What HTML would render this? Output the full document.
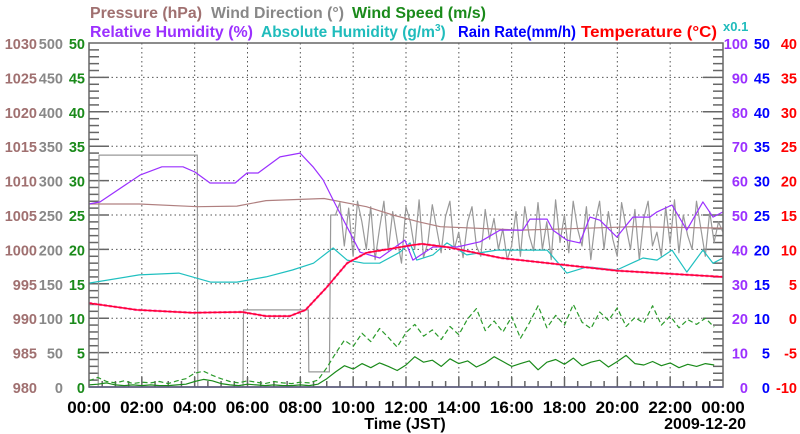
<!DOCTYPE html>
<html><head><meta charset="utf-8"><style>
body{margin:0;background:#fff;width:800px;height:434px;overflow:hidden}
svg{display:block;font-family:"Liberation Sans",sans-serif;font-weight:bold}
</style></head><body>
<svg id="chart" width="800" height="434">
<g font-size="15.5">
<text x="90" y="18" fill="#a07070" textLength="112" lengthAdjust="spacingAndGlyphs">Pressure (hPa)</text>
<text x="211" y="18" fill="#888" textLength="133" lengthAdjust="spacingAndGlyphs">Wind Direction (°)</text>
<text x="352" y="18" fill="#1a8a1a" textLength="134" lengthAdjust="spacingAndGlyphs">Wind Speed (m/s)</text>
<text x="90" y="37" fill="#9b30ff" textLength="163" lengthAdjust="spacingAndGlyphs">Relative Humidity (%)</text>
<text x="261" y="37" fill="#20bcbc">Absolute Humidity (g/m<tspan font-size="10" dy="-6">3</tspan><tspan dy="6">)</tspan></text>
<text x="458" y="37" fill="#0000ff" textLength="118" lengthAdjust="spacingAndGlyphs">Rain Rate(mm/h)</text>
<text x="581" y="37" fill="#ff0000" textLength="136" lengthAdjust="spacingAndGlyphs">Temperature (°C)</text>
<text x="723" y="31" fill="#20bcbc" font-size="13">x0.1</text>
<text x="405" y="429" text-anchor="middle" fill="#000" font-size="16">Time (JST)</text>
<text x="746" y="429" text-anchor="end" fill="#000" font-size="16">2009-12-20</text>
</g>
<g id="grid"></g><g id="ticks"></g><g id="labels" font-size="14.5"></g><g id="series"></g>
<rect x="89" y="43" width="634" height="344" fill="none" stroke="#666" stroke-width="1.5"/>
</svg>
<script>
const xTickLabels=["00:00","02:00","04:00","06:00","08:00","10:00","12:00","14:00","16:00","18:00","20:00","22:00","00:00"];
const pressTicks=[980,985,990,995,1000,1005,1010,1015,1020,1025,1030];
const dirTicks=[0,50,100,150,200,250,300,350,400,450,500];
const spdTicks=[0,5,10,15,20,25,30,35,40,45,50];
const rhTicks=[0,10,20,30,40,50,60,70,80,90,100];
const rainTicks=[0,5,10,15,20,25,30,35,40,45,50];
const tempTicks=[-10,-5,0,5,10,15,20,25,30,35,40];

const rhT=[0,0.42,1.93,2.76,3.56,4.01,4.58,5.53,5.98,6.4,7.23,7.99,8.48,8.86,9.24,9.77,10.26,11.01,11.96,12.26,13.02,13.93,14.8,15.56,16.43,16.69,17.34,17.56,18.09,18.58,18.96,19.34,19.98,20.59,21.23,21.5,22.07,22.63,23.24,23.62,24];
const rhV=[53.2,53.8,61.6,64,64,62.5,59.3,59.3,62.2,62.2,66.9,68,64,60.2,54.4,46.5,39.2,37.5,42.7,36.9,40.7,40.7,42.2,45.6,45.6,48.8,48.8,45.6,42.7,41.9,49.4,48.5,43.6,49.4,49.4,50.9,52.9,45.6,53.8,49.4,50.9];
const presT=[0,1.9,4.1,5.6,6.7,8.9,10.5,11.5,12.5,13.3,16.3,18.1,20.6,24];
const presV=[1006.6,1006.6,1006.2,1006.3,1007.1,1007.4,1006.2,1005.0,1004.0,1003.3,1002.8,1003.0,1003.3,1003.1];
const tempT=[0,1.8,3.9,5.8,6.7,7.6,8.2,9.0,9.77,10.5,12.2,12.6,13.6,15.6,18.1,20.0,24];
const tempV=[2.2,1.2,0.8,0.9,0.3,0.3,1.2,4.5,8.0,9.5,10.6,10.8,10.3,8.75,7.7,6.9,6.0];
const ahT=[0,1.9,3.4,4.6,5.6,6.7,7.7,8.5,9.24,9.77,10.4,11.0,11.77,12.15,12.41,13.02,13.55,14.3,15.44,17.34,18.09,18.85,19.98,20.97,21.5,22.07,22.63,23.24,23.62,24];
const ahV=[3.02,3.26,3.31,3.05,3.05,3.2,3.4,3.6,4.04,3.69,3.6,3.6,3.92,4.19,3.69,3.84,4.19,3.84,3.98,3.98,3.31,3.49,3.4,3.75,3.69,3.98,3.34,3.98,3.6,3.75];
const dirStepT=[0,0.35,0.38,4.1,4.12,5.83,5.85,8.3,8.32,9.1,9.15];
const dirStepV=[0,0,337,337,0,0,112,112,22,22,250];
const dirNoiseStart=9.33;
const dirNoiseV=[250,268,205,260,190,270,240,200,262,185,230,270,198,255,215,180,262,240,200,272,188,210,265,230,195,248,270,200,225,188,
240,262,205,190,258,215,245,200,230,185,205,255,190,262,220,198,268,200,240,185,
272,210,250,195,270,230,205,262,185,240,270,200,255,215,190,268,232,200,258,185,
245,270,205,225,190,262,208,272,195,250,220,200,270,230,190,255,210,240,225];
const spdV=[0.3,0.4,0.6,0.3,0.2,0.3,0.2,0.3,0.2,0.2,0.3,0.4,0.8,1.1,0.9,0.5,0.3,0.2,0.4,0.3,0.2,0.3,0.2,0.2,0.3,0.2,0.4,
1.2,2.2,3.1,2.6,3.4,2.8,3.5,3.0,2.4,3.2,4.4,3.6,3.9,3.0,4.1,3.4,3.8,2.9,3.5,4.4,3.7,3.0,3.4,3.8,2.5,3.6,4.0,3.3,4.2,3.1,3.6,3.9,2.9,3.7,4.6,3.4,3.2,3.7,3.1,3.5,2.8,3.3,3.0,3.4,3.2];
const gustV=[0.9,1.4,0.8,0.6,0.9,0.5,0.7,0.6,0.8,0.5,0.9,1.2,2.0,2.3,1.7,1.2,0.8,0.6,0.9,0.7,0.5,0.8,0.6,0.5,0.7,0.6,1.0,
2.8,4.9,6.8,5.9,7.8,6.6,8.5,7.2,5.8,7.9,9.1,7.4,8.3,6.9,8.8,7.6,9.9,11.4,8.2,9.6,8.0,10.2,7.1,9.3,11.8,8.6,10.4,9.0,12.0,9.4,8.5,10.9,9.7,11.5,8.8,10.1,9.3,11.8,9.0,10.3,8.6,9.8,9.1,10.0,8.7];
const rainT=[0,24];
const rainV=[0,0];

const L=89,R=723,T=43,B=387,NS="http://www.w3.org/2000/svg";
const X=t=>L+(R-L)*t/24;
const yLin=(lo,hi)=>v=>B-(B-T)*(v-lo)/(hi-lo);
const yP=yLin(980,1030),yD=yLin(0,500),yS=yLin(0,50),yRH=yLin(0,100),yAH=yLin(0,10),yR=yLin(0,50),yT=yLin(-10,40);
function mk(tag,attrs,parent){const e=document.createElementNS(NS,tag);for(const k in attrs)e.setAttribute(k,attrs[k]);document.getElementById(parent).appendChild(e);return e;}
const grid='grid',ticks='ticks';
for(let i=1;i<12;i++){const x=L+(R-L)*i/12;
 const g=mk('line',{x1:x,x2:x,y1:T,y2:B,stroke:'#555','stroke-dasharray':'1.5,3'},grid);
 
 }
for(let i=1;i<10;i++){const y=B-(B-T)*i/10;
 const g=mk('line',{x1:L,x2:R,y1:y,y2:y,stroke:'#555','stroke-dasharray':'1.5,3'},grid);
 
 
 mk('line',{x1:L,x2:L+20,y1:y,y2:y,stroke:'#666','stroke-width':1.5},ticks);
 mk('line',{x1:R-20,x2:R,y1:y,y2:y,stroke:'#666','stroke-width':1.5},ticks);}
for(let i=0;i<50;i++){if(i%5==0)continue;const y=B-(B-T)*i/50;
 mk('line',{x1:L,x2:L+10,y1:y,y2:y,stroke:'#666','stroke-width':1.5},ticks);
 mk('line',{x1:R-10,x2:R,y1:y,y2:y,stroke:'#666','stroke-width':1.5},ticks);}
for(let i=1;i<48;i++){const x=L+(R-L)*i/48;const len=i%4==0?10:6;
 mk('line',{x1:x,x2:x,y1:B,y2:B-len,stroke:'#666','stroke-width':1.5},ticks);}
function lbl(x,y,txt,fill,anchor,name,fs){const e=mk('text',{x:x,y:y,fill:fill,'text-anchor':anchor},'labels');e.textContent=txt;
 if(fs)e.setAttribute('font-size',fs);
 
 }
xTickLabels.forEach((s,i)=>lbl(L+(R-L)*i/12,413,s,'#000','middle','x-tick-label',17));
pressTicks.forEach(v=>lbl(37,yP(v)+6,v,'#a07070','end','pressure-tick-label'));
dirTicks.forEach(v=>lbl(63,yD(v)+6,v,'#888','end','wind-direction-tick-label'));
spdTicks.forEach(v=>lbl(85,yS(v)+6,v,'#1a8a1a','end','wind-speed-tick-label'));
rhTicks.forEach(v=>lbl(748,yRH(v)+6,v,'#9b30ff','end','humidity-tick-label'));
rainTicks.forEach(v=>lbl(770,yR(v)+6,v,'#0000ff','end','rain-tick-label'));
tempTicks.forEach(v=>lbl(797,yT(v)+6,v,'#ff0000','end','temperature-tick-label'));
function line(ts,vs,yf,color,name,extra){const d=ts.map((t,i)=>(i?'L':'M')+X(t).toFixed(1)+','+yf(vs[i]).toFixed(1)).join('');
 const p=mk('path',Object.assign({d:d,fill:'none',stroke:color,'stroke-width':1.2,'stroke-linejoin':'round'},extra||{}),'series');
 
 }
const spdT=spdV.map((v,i)=>i/3);
const dirNoiseT=dirNoiseV.map((v,i)=>dirNoiseStart+i/6);
line(dirStepT.concat(dirNoiseT),dirStepV.concat(dirNoiseV),yD,'#999','wind-direction-line');
line(presT,presV,yP,'#b08080','pressure-line');
line(spdT,gustV,yS,'#2a9a2a','wind-gust-line',{'stroke-dasharray':'5,3'});
line(spdT,spdV,yS,'#1a8a1a','wind-speed-line');
line(ahT,ahV,yAH,'#20c0c0','absolute-humidity-line');
line(rhT,rhV,yRH,'#9b30ff','relative-humidity-line');
line(tempT,tempV,yT,'#ff66cc','apparent-temperature-line',{'stroke-dasharray':'3,2','stroke-width':2.5});
line(tempT,tempV,yT,'#ff0033','temperature-line',{'stroke-width':1.5});
line(rainT,rainV,yR,'#2020ff','rain-rate-line',{'stroke-width':1.5});
</script>
</body></html>
